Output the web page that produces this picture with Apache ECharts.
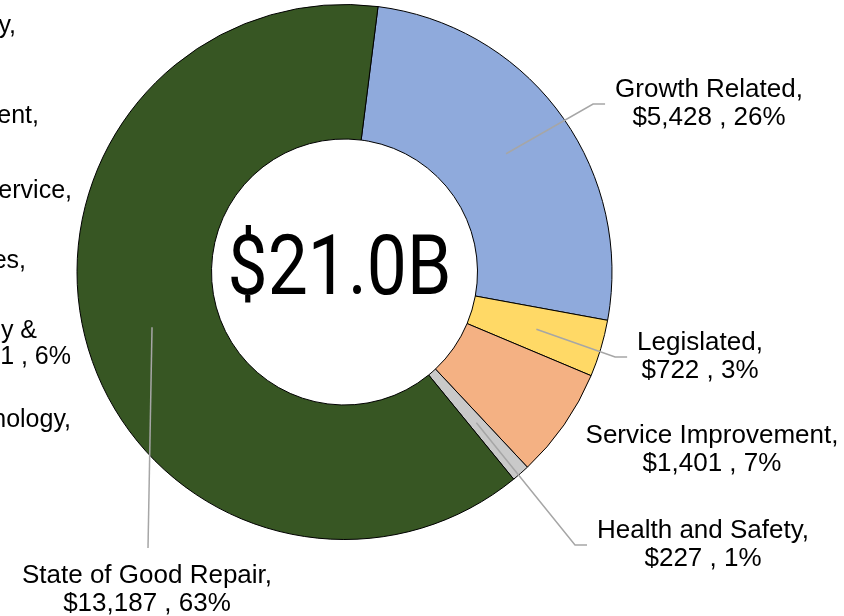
<!DOCTYPE html>
<html>
<head>
<meta charset="utf-8">
<script src="https://cdn.jsdelivr.net/npm/echarts@6/dist/echarts.min.js"></script>
<style>
  html, body { margin: 0; padding: 0; background: #fff; }
  #chart { width: 844px; height: 616px; }
</style>
</head>
<body>
<div id="chart"></div>
<script>
// 数据
const categories = ["Growth Related", "Legislated", "Service Improvement", "Health and Safety", "State of Good Repair"];
const values = [5428, 722, 1401, 227, 13187];
const colors = ["#8FAADC", "#FFD966", "#F4B183", "#C9C9C9", "#375623"];
const totalLabel = "$21.0B";

// labels of the neighbouring chart, clipped at the left edge
const clippedTexts = ["y,", "ent,", "ervice,", "es,", "y &", "91 , 6%", "hnology,"];

// layout (label block centres, px)
const labelPos = [[709, 104], [700, 357], [712, 450], [703, 545], [147, 590]];
const clippedPos = [[16, 26], [39, 116], [72, 191], [26, 261], [37, 331], [71, 357], [71, 420]];

const cx = 344.5, cy = 272, r0 = 133, r1 = 267.5;
const startAngle = 82.8;
const font = "Liberation Sans, Arial, sans-serif";

const total = values.reduce((a, b) => a + b, 0);
// mid angle of each slice (screen coords, degrees from 3 o'clock, clockwise)
const midAngles = [];
let acc = 0;
values.forEach(v => {
  midAngles.push(-startAngle + (acc + v / 2) / total * 360);
  acc += v;
});

const chart = echarts.init(document.getElementById("chart"));

const pieBase = {
  type: "pie",
  center: [cx, cy],
  radius: [r0, r1],
  startAngle: startAngle,
  clockwise: true,
  avoidLabelOverlap: false,
  emphasis: { disabled: true }
};

chart.setOption({
  animation: false,
  graphic: [
    {
      type: "text",
      x: cx - 5,
      y: cy + 1,
      scaleX: 0.85,
      style: {
        text: totalLabel,
        x: 0,
        y: 0,
        align: "center",
        verticalAlign: "middle",
        font: '84px Roboto, "Liberation Sans", sans-serif',
        fill: "#000"
      }
    }
  ].concat(clippedTexts.map((t, i) => ({
    type: "text",
    style: {
      text: t,
      x: clippedPos[i][0],
      y: clippedPos[i][1],
      align: "right",
      verticalAlign: "middle",
      font: "25px " + font,
      fill: "#000"
    }
  }))),
  series: [
    // 扇区
    Object.assign({}, pieBase, {
      z: 2,
      itemStyle: { borderColor: "#000", borderWidth: 1 },
      label: { show: false },
      labelLine: { show: false },
      data: categories.map((c, i) => ({
        name: c,
        value: values[i],
        itemStyle: { color: colors[i] }
      }))
    }),
    // 标签 + 引导线（画在扇区上面）
    Object.assign({}, pieBase, {
      z: 3,
      silent: true,
      itemStyle: { color: "transparent", borderWidth: 0 },
      label: {
        show: true,
        fontFamily: font,
        fontSize: 26,
        lineHeight: 28,
        color: "#000",
        align: "center",
        formatter: p => p.name + ",\n$" + p.value.toLocaleString("en-US") + " , " + p.percent.toFixed(0) + "%"
      },
      labelLine: {
        show: true,
        lineStyle: { color: "#A6A6A6", width: 1.5 }
      },
      labelLayout: function (params) {
        const i = params.dataIndex;
        const rad = midAngles[i] * Math.PI / 180;
        const rm = (r0 + r1) / 2;
        const start = [cx + rm * Math.cos(rad), cy + rm * Math.sin(rad)];
        const w = params.labelRect.width;
        const h = params.labelRect.height;
        const x = labelPos[i][0], y = labelPos[i][1];
        let pts;
        if (i === 4) {
          const end = [x + 1, y - h / 2 - 14];
          pts = [start, end, end];
        } else {
          const end = [x - w / 2 - 10, y];
          pts = [start, [end[0] - 12, end[1]], end];
        }
        return {
          x: x,
          y: y,
          align: "center",
          verticalAlign: "middle",
          labelLinePoints: pts
        };
      },
      data: categories.map((c, i) => ({
        name: c,
        value: values[i],
        labelLine: { show: i !== 2 }
      }))
    })
  ]
});
</script>
</body>
</html>
